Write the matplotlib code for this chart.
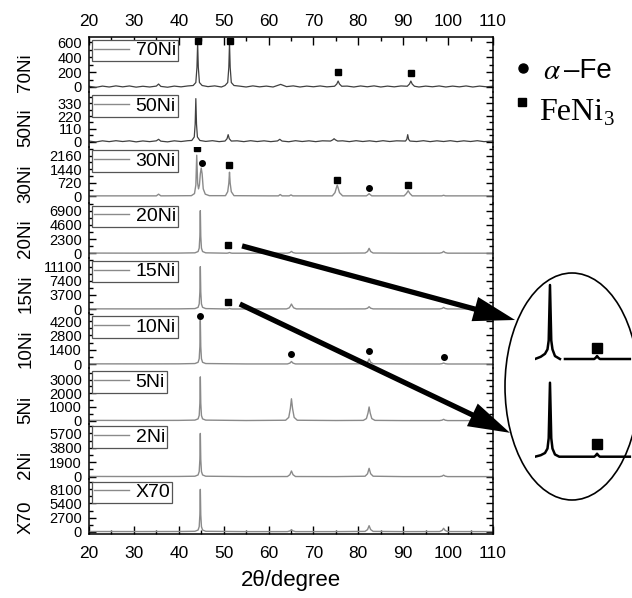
import numpy as np
import matplotlib
matplotlib.use('Agg')
import matplotlib.pyplot as plt
from matplotlib.patches import Ellipse, ConnectionPatch, ArrowStyle
from matplotlib.lines import Line2D
from matplotlib.ticker import MultipleLocator, AutoMinorLocator

plt.rcParams['font.family'] = ['Liberation Sans', 'DejaVu Sans']
plt.rcParams['mathtext.fontset'] = 'stix'

# ---------------- data ----------------
names = ['70Ni', '50Ni', '30Ni', '20Ni', '15Ni', '10Ni', '5Ni', '2Ni', 'X70']

tt_70 = [20, 21.5, 23, 24.5, 26, 27.5, 29, 30.5, 32, 33.5, 35, 35.5, 36, 37.5, 39, 40.5, 42,
         43.2, 43.8, 44.05, 44.2, 44.35, 44.6, 45.2, 46.5, 48, 49.5,
         50.3, 50.9, 51.15, 51.3, 51.45, 51.7, 52.3, 53.5, 55, 56.5, 58, 59.5, 61, 62.7, 64,
         65.5, 67, 68.5, 70, 71.5, 73, 74.7, 75.2, 75.5, 75.8, 76.3, 77.5, 79, 80.5, 82,
         83.5, 85, 86.5, 88, 89.5, 90.9, 91.4, 91.7, 92.0, 92.5, 93.5, 95, 96.5, 98, 99.5,
         101, 102.5, 104, 105.5, 107, 108.5, 110]
I_70 = [10, -5, 12, 0, 15, 2, 14, -2, 10, 0, 12, 40, 8, -3, 12, 2, 14,
        20, 60, 265, 590, 265, 60, 20, 5, 15, 0,
        20, 60, 265, 590, 265, 60, 20, 12, 0, 15, 2, 12, 0, 35, 5,
        15, 0, 12, 3, 14, 2, 10, 40, 80, 40, 10, 12, 0, 14, 3,
        15, 0, 12, 2, 14, 10, 40, 80, 40, 10, 0, 12, 3, 14, 0,
        12, 2, 14, 0, 12, 3, 10]

tt_50 = [20, 21.5, 23, 24.5, 26, 27.5, 29, 30.5, 32, 33.5, 35, 35.5, 36, 37.5, 39, 40.5, 42,
         42.9, 43.45, 43.65, 43.8, 43.95, 44.15, 44.7, 46, 47.5, 49,
         50.3, 50.75, 51.0, 51.25, 51.7, 53, 54.5, 56, 57.5, 59, 60.5, 62, 62.5, 63, 64.5,
         66, 67.5, 69, 70.5, 72, 73.8, 74.3, 74.6, 74.9, 75.4, 76.5, 78, 79.5, 81, 82.5,
         84, 85.5, 87, 88.5, 90.5, 90.8, 91.0, 91.2, 91.5, 93, 94.5, 96, 97.5, 99,
         100.5, 102, 103.5, 105, 106.5, 108, 110]
I_50 = [5, -3, 7, 0, 8, 1, 7, -2, 6, 0, 7, 20, 4, -2, 7, 1, 8,
        10, 40, 150, 370, 150, 40, 10, 2, 8, 0,
        5, 25, 60, 25, 5, 7, 0, 8, 1, 7, 0, 6, 20, 5, -1,
        8, 1, 7, 0, 7, 5, 15, 25, 15, 5, 7, 0, 8, 1, 7,
        0, 8, 1, 7, 5, 20, 60, 20, 5, 1, 8, 0, 7, 1,
        8, 0, 7, 1, 8, 0, 5]

tt_30 = [20, 30, 35.0, 35.5, 36.0, 42.8, 43.5, 43.8, 44.0, 44.2, 44.4, 44.6, 44.8, 45.0,
         45.2, 45.45, 45.9, 46.8, 50.4, 50.9, 51.15, 51.3, 51.45, 51.7, 52.3, 60, 62.2,
         62.6, 63.0, 64.6, 65.0, 65.4, 74.2, 74.8, 75.1, 75.3, 75.5, 75.8, 76.5, 81.8,
         82.2, 82.4, 82.6, 83.0, 90.2, 90.7, 91.1, 91.5, 92.0, 98.6, 99.0, 99.4, 110]
I_30 = [30, 30, 30, 120, 30, 40, 150, 600, 2180, 700, 400, 600, 1200, 1500,
        1200, 400, 120, 40, 40, 250, 700, 1280, 700, 250, 40, 30, 30,
        100, 30, 30, 80, 30, 30, 200, 450, 600, 450, 200, 30, 30,
        100, 150, 100, 30, 30, 150, 300, 150, 30, 30, 60, 30, 30]

tt_20 = [20, 30, 40, 43.6, 44.3, 44.55, 44.7, 44.8, 44.9, 45.05, 45.3, 46.0,
         50.7, 51.0, 51.3, 51.6, 51.9, 55, 64.2, 64.75, 65.1, 65.45, 66.0, 75,
         81.5, 82.05, 82.4, 82.75, 83.3, 90, 98.1, 98.65, 99.0, 99.35, 99.9, 110]
I_20 = [30, 20, 30, 70, 280, 830, 2760, 6900, 2760, 830, 280, 70,
        10, 40, 120, 40, 10, 10, 15, 105, 300, 105, 15, 10,
        40, 280, 800, 280, 40, 10, 15, 105, 300, 105, 15, 10]

tt_15 = [20, 30, 40, 43.6, 44.3, 44.55, 44.7, 44.8, 44.9, 45.05, 45.3, 46.0,
         50.7, 51.0, 51.3, 51.6, 51.9, 55, 64.0, 64.6, 64.85, 65.1, 65.35, 65.6, 66.2, 75,
         81.5, 82.05, 82.4, 82.75, 83.3, 90, 98.1, 98.65, 99.0, 99.35, 99.9, 110]
I_15 = [40, 30, 40, 110, 440, 1330, 4440, 11100, 4440, 1330, 440, 110,
        10, 50, 150, 50, 10, 10, 30, 300, 750, 1300, 750, 300, 30, 10,
        30, 210, 600, 210, 30, 10, 20, 140, 400, 140, 20, 10]

tt_10 = [20, 30, 40, 43.6, 44.3, 44.55, 44.7, 44.8, 44.9, 45.05, 45.3, 46.0, 55,
         64.2, 64.75, 65.1, 65.45, 66.0, 75, 81.5, 82.05, 82.4, 82.75, 83.3, 90,
         98.1, 98.65, 99.0, 99.35, 99.9, 110]
I_10 = [20, 15, 20, 50, 170, 520, 1720, 4300, 1720, 520, 170, 50, 10,
        10, 90, 250, 90, 10, 10, 25, 175, 500, 175, 25, 10,
        5, 35, 100, 35, 5, 5]

tt_5 = [20, 30, 40, 43.6, 44.3, 44.55, 44.7, 44.8, 44.9, 45.05, 45.3, 46.0, 55,
        63.8, 64.5, 64.85, 65.1, 65.35, 65.7, 66.4, 75,
        81.1, 81.8, 82.15, 82.4, 82.65, 83.0, 83.7, 90,
        98.1, 98.65, 99.0, 99.35, 99.9, 110]
I_5 = [20, 15, 20, 40, 130, 380, 1280, 3200, 1280, 380, 130, 40, 10,
       30, 240, 880, 1600, 880, 240, 30, 10,
       20, 150, 550, 1000, 550, 150, 20, 5,
       5, 35, 100, 35, 5, 5]

tt_2 = [20, 30, 40, 43.6, 44.3, 44.55, 44.7, 44.8, 44.9, 45.05, 45.3, 46.0, 55,
        64.2, 64.75, 65.1, 65.45, 66.0, 75, 81.5, 82.05, 82.4, 82.75, 83.3, 90,
        98.1, 98.65, 99.0, 99.35, 99.9, 110]
I_2 = [30, 20, 30, 60, 230, 680, 2280, 5700, 2280, 680, 230, 60, 10,
       20, 260, 750, 260, 20, 10, 60, 385, 1100, 385, 60, 10,
       10, 70, 200, 70, 10, 10]

tt_x70 = [20, 30, 40, 43.6, 44.3, 44.55, 44.7, 44.8, 44.9, 45.05, 45.3, 46.0, 55,
          64.2, 64.75, 65.1, 65.45, 66.0, 75, 81.5, 82.05, 82.4, 82.75, 83.3, 90,
          98.1, 98.65, 99.0, 99.35, 99.9, 110]
I_x70 = [40, 30, 40, 80, 320, 970, 3240, 8100, 3240, 970, 320, 80, 20,
         20, 140, 400, 140, 20, 20, 60, 400, 1150, 400, 60, 20,
         30, 230, 650, 230, 30, 20]

yticks_70 = [0, 200, 400, 600]
yticks_50 = [0, 110, 220, 330]
yticks_30 = [0, 720, 1440, 2160]
yticks_20 = [0, 2300, 4600, 6900]
yticks_15 = [0, 3700, 7400, 11100]
yticks_10 = [0, 1400, 2800, 4200]
yticks_5 = [0, 1000, 2000, 3000]
yticks_2 = [0, 1900, 3800, 5700]
yticks_x70 = [0, 2700, 5400, 8100]

ylim_70 = (-70, 670)
ylim_50 = (-50, 425)
ylim_30 = (-330, 2590)
ylim_20 = (-750, 8200)
ylim_15 = (-1075, 13400)
ylim_10 = (-420, 4990)
ylim_5 = (-212, 3825)
ylim_2 = (-277, 7000)
ylim_x70 = (-440, 10130)

# phase markers (2theta, height)
sq_70_x = [44.2, 51.3, 75.5, 91.7]
sq_70_y = [615, 615, 195, 190]
sq_30_x = [44.0, 51.2, 75.2, 91.1]
sq_30_y = [2560, 1650, 850, 590]
ci_30_x = [45.2, 82.4]
ci_30_y = [1760, 425]
sq_20_x = [51.0]
sq_20_y = [1300]
sq_15_x = [51.0]
sq_15_y = [1900]
ci_10_x = [44.8, 65.0, 82.4, 99.1]
ci_10_y = [4700, 980, 1300, 660]

# zoomed insets (arbitrary units)
ins20_tt = [42.7, 43.5, 44.1, 44.45, 44.62, 44.8, 44.98, 45.15, 45.5, 46.2, 46.25,
            46.9, 51.0, 51.2, 51.4, 51.6, 51.8, 56.0]
ins20_I = [0, 3, 7, 13, 25, 100, 25, 13, 4, 0, np.nan, 0, 0, 1.5, 4, 1.5, 0, 0]
ins15_tt = [42.7, 43.5, 44.1, 44.45, 44.62, 44.8, 44.98, 45.15, 45.5, 46.1,
            51.0, 51.2, 51.4, 51.6, 51.8, 56.0]
ins15_I = [0, 2, 5, 11, 25, 100, 25, 11, 3, 0, 0, 1.5, 4, 1.5, 0, 0]
ins20_sq = (51.4, 14.5)
ins15_sq = (51.4, 16.8)

# arrow start points (2theta, intensity) in 20Ni and 15Ni panels
arrow20_start = (54.1, 1190)
arrow15_start = (53.6, 1310)

patterns = {
    '70Ni': (tt_70, I_70, yticks_70, ylim_70),
    '50Ni': (tt_50, I_50, yticks_50, ylim_50),
    '30Ni': (tt_30, I_30, yticks_30, ylim_30),
    '20Ni': (tt_20, I_20, yticks_20, ylim_20),
    '15Ni': (tt_15, I_15, yticks_15, ylim_15),
    '10Ni': (tt_10, I_10, yticks_10, ylim_10),
    '5Ni': (tt_5, I_5, yticks_5, ylim_5),
    '2Ni': (tt_2, I_2, yticks_2, ylim_2),
    'X70': (tt_x70, I_x70, yticks_x70, ylim_x70),
}
squares = {'70Ni': (sq_70_x, sq_70_y), '30Ni': (sq_30_x, sq_30_y),
           '20Ni': (sq_20_x, sq_20_y), '15Ni': (sq_15_x, sq_15_y)}
circles = {'30Ni': (ci_30_x, ci_30_y), '10Ni': (ci_10_x, ci_10_y)}

# ---------------- figure ----------------
W, H = 632, 598
fig = plt.figure(figsize=(W / 100, H / 100), dpi=100)
fig.patch.set_facecolor('white')
L, R, T, B = 89, 493, 37, 534
ph = (B - T) / len(names)

axes = {}
for i, name in enumerate(names):
    y0 = T + i * ph
    ax = fig.add_axes([L / W, 1 - (y0 + ph) / H, (R - L) / W, ph / H])
    ax.patch.set_alpha(0)
    tt, inten, yt, yl = patterns[name]
    dark = name in ('70Ni', '50Ni')
    ax.plot(tt, inten, color='#404040' if dark else '#8a8a8a',
            lw=0.9 if dark else 1.0)
    if name in squares:
        ax.plot(*squares[name], 's', color='k', ms=4.2, ls='none')
    if name in circles:
        ax.plot(*circles[name], 'o', color='k', ms=4.0, ls='none')
    ax.set_xlim(20, 110)
    ax.set_ylim(*yl)
    ax.set_yticks(yt)
    ax.set_yticklabels([str(v) for v in yt])
    ax.yaxis.set_minor_locator(AutoMinorLocator(2))
    ax.xaxis.set_major_locator(MultipleLocator(10))
    ax.xaxis.set_minor_locator(MultipleLocator(5))
    ax.tick_params(axis='y', which='both', direction='in', left=True, right=True,
                   labelsize=10.5, pad=5, width=1)
    ax.tick_params(axis='y', which='major', length=5)
    ax.tick_params(axis='y', which='minor', length=3)
    for s in ('left', 'right', 'top', 'bottom'):
        ax.spines[s].set_linewidth(1.1)
        ax.spines[s].set_color('black')
    ax.spines['top'].set_visible(i == 0)
    ax.spines['bottom'].set_visible(i == len(names) - 1)
    if i == 0:
        ax.tick_params(axis='x', which='both', direction='in', top=True, bottom=False,
                       labeltop=True, labelbottom=False, labelsize=12.5, pad=6, width=1)
        ax.tick_params(axis='x', which='major', length=6)
        ax.tick_params(axis='x', which='minor', length=3)
    elif i == len(names) - 1:
        ax.tick_params(axis='x', which='both', direction='in', top=False, bottom=True,
                       labelbottom=True, labelsize=12.5, pad=9, width=1)
        ax.tick_params(axis='x', which='major', length=6)
        ax.tick_params(axis='x', which='minor', length=3)
        ax.set_xlabel('2θ/degree', fontsize=16, labelpad=6)
    else:
        ax.tick_params(axis='x', which='both', bottom=False, top=False,
                       labelbottom=False)
    ax.set_ylabel(name, fontsize=13.5)
    lab = ax.yaxis.label
    lab.set_rotation(90)
    lab.set_rotation_mode('anchor')
    lab.set_ha('left')
    lab.set_va('center')
    ax.yaxis.set_label_coords(-0.156, 0.0)
    leg = ax.legend([Line2D([], [], color='#8a8a8a', lw=1.0)], [name], loc='upper left',
                    fontsize=14, frameon=True, fancybox=False, framealpha=1,
                    edgecolor='#555555', handlelength=1.8, handletextpad=0.35,
                    borderpad=0.1, borderaxespad=0.15)
    leg.get_frame().set_linewidth(0.9)
    axes[name] = ax

# phase key on the right
fig.add_artist(Line2D([522.7 / W], [1 - 67.7 / H], marker='o', ls='none', color='k',
                      ms=6.5, transform=fig.transFigure))
fig.add_artist(Line2D([521.7 / W], [1 - 102.5 / H], marker='s', ls='none', color='k',
                      ms=6.0, transform=fig.transFigure))
t_a = fig.text(543 / W, 1 - 71 / H, r'$\alpha$', fontsize=21, va='center', ha='left')
fig.canvas.draw()
bba = t_a.get_window_extent()
fig.text(max(564, bba.x1 + 2) / W, 1 - 71.5 / H, '–Fe', fontsize=20, va='center',
         ha='left')
t_fe = fig.text(539 / W, 1 - 112 / H, 'FeNi', fontsize=23, va='center', ha='left',
                family='Liberation Serif')
fig.canvas.draw()
bb = t_fe.get_window_extent()
fig.text((bb.x1 + 0.5) / W, bb.y0 / H + 1.5 / H, '3', fontsize=15, va='baseline',
         ha='left', family='Liberation Serif')

# ellipse with zoomed views
ex0, ex1, ey0, ey1 = 505, 639, 273, 500
ell_ax = fig.add_axes([ex0 / W, 1 - ey1 / H, (ex1 - ex0) / W, (ey1 - ey0) / H])
ell_ax.set_axis_off()
ell_ax.patch.set_alpha(0)
ell_ax.add_patch(Ellipse((0.5, 0.5), 1.0, 1.0, transform=ell_ax.transAxes,
                         fill=False, lw=1.2, ec='k', clip_on=False))


def inset(base_px, tt, inten, sq):
    ax = fig.add_axes([535 / W, 1 - (base_px + 7.4) / H, 97 / W, 88.8 / H])
    ax.set_axis_off()
    ax.patch.set_alpha(0)
    ax.plot(tt, inten, color='k', lw=1.8)
    ax.plot([sq[0]], [sq[1]], 's', color='k', ms=6.5)
    ax.set_xlim(42.7, 56.3)
    ax.set_ylim(-10, 110)
    return ax


inset(359, ins20_tt, ins20_I, ins20_sq)
inset(456.7, ins15_tt, ins15_I, ins15_sq)

astyle = ArrowStyle.Simple(head_length=3.0, head_width=1.8, tail_width=0.38)
for src, tip in ((('20Ni', arrow20_start), (0.075, 0.793)),
                 (('15Ni', arrow15_start), (0.037, 0.296))):
    con = ConnectionPatch(xyA=src[1], coordsA='data', axesA=axes[src[0]],
                          xyB=tip, coordsB='axes fraction', axesB=ell_ax,
                          arrowstyle=astyle, mutation_scale=10, color='k',
                          shrinkA=0, shrinkB=0, lw=0)
    con.set_zorder(5)
    fig.add_artist(con)

fig.savefig('out.png', dpi=100)
